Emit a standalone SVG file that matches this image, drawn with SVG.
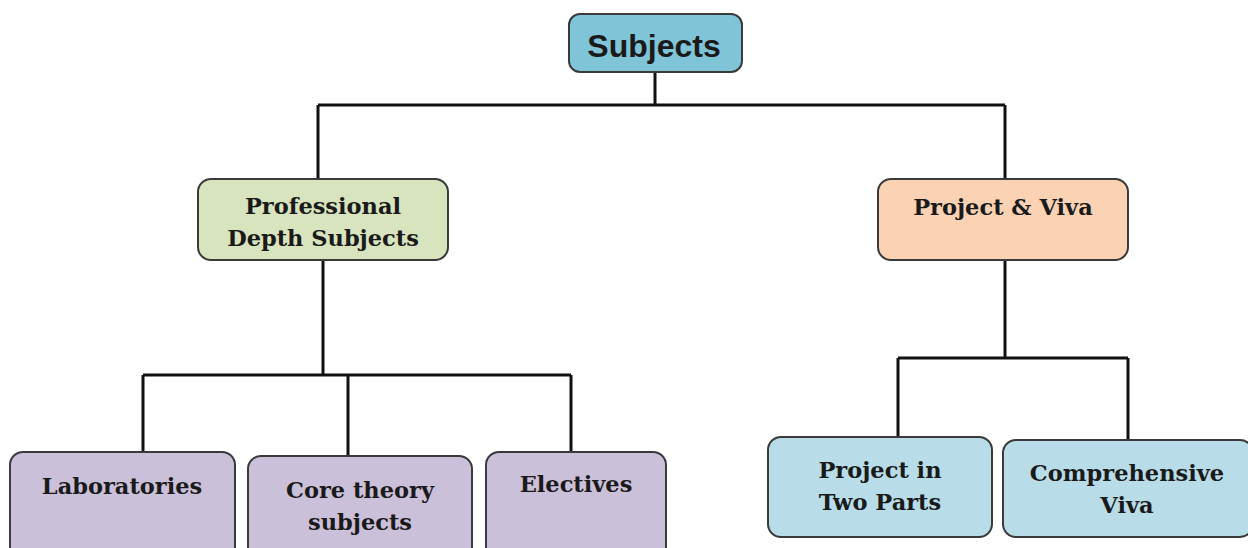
<svg xmlns="http://www.w3.org/2000/svg" width="1248" height="548" viewBox="0 0 1248 548">
<style>
.box{stroke:#3a3a3a;stroke-width:2}
.t{font-family:"DejaVu Serif","Liberation Serif",serif;font-weight:bold;font-size:22.5px;fill:#1a1a1a;text-anchor:middle}
.c{fill:none;stroke:#111;stroke-width:3}
</style>
<rect width="1248" height="548" fill="#ffffff"/>
<g id="connectors">
<path class="c" d="M655 73V105M318 105H1005M318 105V179M1005 105V179"/>
<path class="c" d="M323 260V375M143 375H571M143 375V452M348 375V456M571 375V452"/>
<path class="c" d="M1005 260V358M898 358H1128M898 358V437M1128 358V440"/>
</g>
<g id="subjects">
<rect class="box" x="569" y="14" width="173" height="58" rx="11" fill="#80c4d7"/>
<text x="654" y="57" style="font-family:'Liberation Sans',Arial,sans-serif;font-weight:bold;font-size:32px;fill:#1a1a1a;text-anchor:middle">Subjects</text>
</g>
<g id="professional">
<rect class="box" x="198" y="179" width="250" height="81" rx="13" fill="#d8e4bd"/>
<text class="t" x="323" y="214">Professional</text>
<text class="t" x="323" y="246">Depth Subjects</text>
</g>
<g id="projectviva">
<rect class="box" x="878" y="179" width="250" height="81" rx="13" fill="#fbd2b3"/>
<text class="t" x="1003" y="215">Project &amp; Viva</text>
</g>
<g id="laboratories">
<rect class="box" x="10" y="452" width="225" height="110" rx="13" fill="#cbc0d9"/>
<text class="t" x="122" y="494">Laboratories</text>
</g>
<g id="coretheory">
<rect class="box" x="248" y="456" width="224" height="106" rx="13" fill="#cbc0d9"/>
<text class="t" x="360" y="498">Core theory</text>
<text class="t" x="360" y="530">subjects</text>
</g>
<g id="electives">
<rect class="box" x="486" y="452" width="180" height="110" rx="13" fill="#cbc0d9"/>
<text class="t" x="576" y="492">Electives</text>
</g>
<g id="projecttwo">
<rect class="box" x="768" y="437" width="224" height="100" rx="13" fill="#b8dde9"/>
<text class="t" x="880" y="478">Project in</text>
<text class="t" x="880" y="510">Two Parts</text>
</g>
<g id="comprehensive">
<rect class="box" x="1003" y="440" width="250" height="97" rx="13" fill="#b8dde9"/>
<text class="t" x="1127" y="481">Comprehensive</text>
<text class="t" x="1127" y="513">Viva</text>
</g>
</svg>
